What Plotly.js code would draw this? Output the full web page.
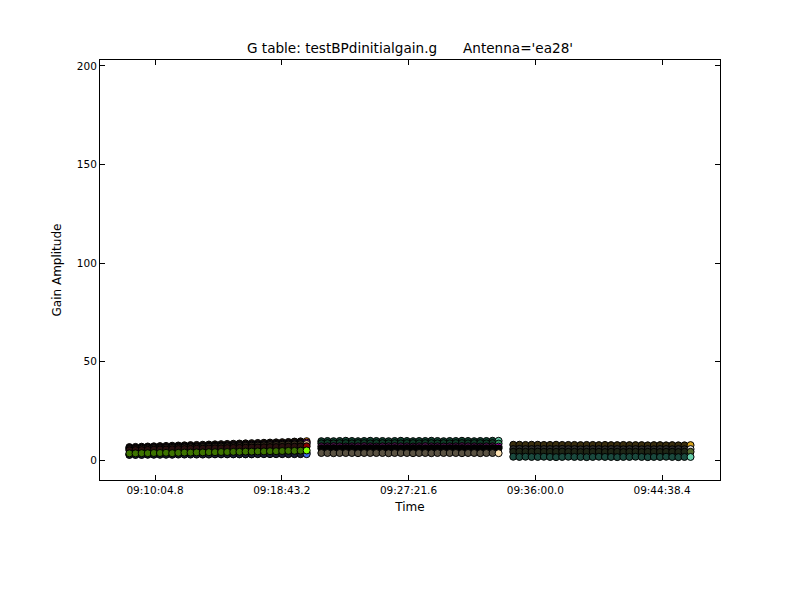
<!DOCTYPE html>
<html>
<head>
<meta charset="utf-8">
<script src="https://cdn.plot.ly/plotly-3.0.1.min.js"></script>
<style>html,body{margin:0;padding:0;background:#fff;}#chart{width:800px;height:600px;}</style>
</head>
<body>
<div id="chart"></div>
<script>
// ---- Data ----
var day = '2013-01-01 ';
var scan1Times = ['09:08:20','09:08:45','09:09:10','09:09:35','09:10:00','09:10:25','09:10:50','09:11:15','09:11:40','09:12:05','09:12:30','09:12:55','09:13:20','09:13:45','09:14:10','09:14:35','09:15:00','09:15:25','09:15:50','09:16:15','09:16:40','09:17:05','09:17:30','09:17:55','09:18:20','09:18:45','09:19:10','09:19:35','09:20:00','09:20:25'];
var scan2Times = ['09:21:25','09:21:50','09:22:15','09:22:40','09:23:05','09:23:30','09:23:55','09:24:20','09:24:45','09:25:10','09:25:35','09:26:00','09:26:25','09:26:50','09:27:15','09:27:40','09:28:05','09:28:30','09:28:55','09:29:20','09:29:45','09:30:10','09:30:35','09:31:00','09:31:25','09:31:50','09:32:15','09:32:40','09:33:05','09:33:30'];
var scan3Times = ['09:34:30','09:34:55','09:35:20','09:35:45','09:36:10','09:36:35','09:37:00','09:37:25','09:37:50','09:38:15','09:38:40','09:39:05','09:39:30','09:39:55','09:40:20','09:40:45','09:41:10','09:41:35','09:42:00','09:42:25','09:42:50','09:43:15','09:43:40','09:44:05','09:44:30','09:44:55','09:45:20','09:45:45','09:46:10','09:46:35'];

// scan 1 amplitudes
var s1a = [6.6,6.7,6.8,6.9,7.0,7.1,7.2,7.3,7.4,7.5,7.6,7.7,7.8,7.9,8.0,8.1,8.2,8.3,8.4,8.5,8.6,8.7,8.8,8.9,9.0,9.1,9.2,9.4,9.5,9.6];
var s1b = [6.1,6.2,6.3,6.4,6.5,6.5,6.6,6.7,6.8,6.9,7.0,7.0,7.1,7.2,7.3,7.4,7.5,7.6,7.7,7.8,7.9,8.0,8.1,8.2,8.3,8.4,8.5,8.6,8.8,8.9];
var s1c = [5.6,5.7,5.8,5.9,6.0,6.0,6.1,6.2,6.3,6.4,6.5,6.5,6.6,6.7,6.8,6.9,7.0,7.0,7.1,7.2,7.3,7.4,7.5,7.6,7.7,7.8,7.9,8.0,8.1,8.2];
var s1d = [5.0,5.1,5.1,5.2,5.3,5.4,5.4,5.5,5.6,5.6,5.7,5.8,5.8,5.9,6.0,6.0,6.1,6.2,6.2,6.3,6.4,6.4,6.5,6.6,6.6,6.7,6.8,6.8,6.9,7.0];
var s1f = [2.9,2.9,3.0,3.0,3.0,3.1,3.1,3.1,3.2,3.2,3.2,3.2,3.3,3.3,3.3,3.3,3.4,3.4,3.4,3.4,3.5,3.5,3.5,3.5,3.5,3.6,3.6,3.6,3.7,3.7];
var s1g = [2.6,2.6,2.6,2.7,2.7,2.7,2.7,2.7,2.8,2.8,2.8,2.8,2.8,2.8,2.9,2.9,2.9,2.9,2.9,2.9,2.9,3.0,3.0,3.0,3.0,3.0,3.0,3.0,3.0,3.0];
var s1e = [3.4,3.4,3.5,3.5,3.6,3.6,3.7,3.5,3.7,3.8,3.8,3.9,3.9,4.0,4.0,4.1,4.1,4.2,4.2,4.3,4.3,4.4,4.4,4.5,4.5,4.6,4.7,4.7,4.8,4.9];
// scan 2 amplitudes
var s2a = [9.6,9.7,9.6,9.7,9.8,9.7,9.6,9.7,9.8,9.7,9.7,9.6,9.7,9.8,9.7,9.6,9.7,9.7,9.8,9.7,9.6,9.7,9.7,9.8,9.7,9.6,9.7,9.7,9.8,9.8];
var s2b = [8.5,8.6,8.5,8.6,8.6,8.5,8.6,8.6,8.5,8.6,8.6,8.5,8.6,8.5,8.6,8.6,8.5,8.6,8.6,8.5,8.6,8.5,8.6,8.6,8.5,8.6,8.6,8.5,8.6,8.4];
var s2c = [7.0,7.0,7.1,7.0,6.9,7.0,7.0,7.1,7.0,6.9,7.0,7.0,7.1,7.0,7.0,6.9,7.0,7.1,7.0,7.0,6.9,7.0,7.0,7.1,7.0,7.0,6.9,7.0,7.0,6.8];
var s2d = [5.9,6.0,6.0,5.9,6.0,6.0,5.9,6.0,6.0,6.0,5.9,6.0,6.0,5.9,6.0,6.0,6.0,5.9,6.0,6.0,5.9,6.0,6.0,6.0,5.9,6.0,6.0,5.9,6.0,6.0];
var s2e = [3.6,3.6,3.5,3.6,3.6,3.6,3.5,3.6,3.6,3.6,3.6,3.5,3.6,3.6,3.6,3.5,3.6,3.6,3.5,3.6,3.6,3.6,3.6,3.5,3.6,3.6,3.5,3.6,3.6,3.5];
// scan 3 amplitudes
var s3a = [7.8,7.8,7.7,7.8,7.8,7.7,7.7,7.8,7.7,7.7,7.7,7.6,7.7,7.7,7.6,7.7,7.6,7.6,7.7,7.6,7.6,7.6,7.5,7.6,7.6,7.5,7.6,7.5,7.5,7.6];
var s3b = [5.6,5.7,5.6,5.6,5.7,5.6,5.6,5.6,5.7,5.6,5.6,5.5,5.6,5.6,5.6,5.5,5.6,5.6,5.5,5.6,5.6,5.5,5.6,5.5,5.6,5.6,5.5,5.6,5.5,5.6];
var s3c = [4.2,4.3,4.2,4.2,4.3,4.2,4.2,4.2,4.3,4.2,4.2,4.1,4.2,4.2,4.2,4.1,4.2,4.2,4.1,4.2,4.2,4.1,4.2,4.2,4.1,4.2,4.2,4.1,4.2,4.2];
var s3d = [1.7,1.6,1.7,1.6,1.6,1.7,1.6,1.5,1.6,1.7,1.6,1.6,1.5,1.6,1.7,1.6,1.6,1.5,1.6,1.6,1.7,1.6,1.5,1.6,1.6,1.7,1.6,1.5,1.6,1.6];

var xTickVals = ['09:10:04.8','09:18:43.2','09:27:21.6','09:36:00.0','09:44:38.4'];
var yTickVals = [0, 50, 100, 150, 200];

// ---- Styling (separate from data) ----
var groups = [
  {t: scan1Times, ys: [s1a,s1b,s1c,s1d,s1f,s1g,s1e],
   bright: ['#ff8c00','#9400d3','#d2b48c','#8b0000','#87cefa','#4169e1','#7fff00'],
   dark:   ['#2e2010','#24142a','#342a1c','#2a1010','#1c2a36','#1a1e34','#3d7400']},
  {t: scan2Times, ys: [s2a,s2b,s2c,s2d,s2e],
   bright: ['#66cdaa','#2e8b57','#ff00ff','#000000','#ffe4b5'],
   dark:   ['#0e4532','#0f3d26','#4a1048','#000000','#5a5242']},
  {t: scan3Times, ys: [s3a,s3b,s3c,s3d],
   bright: ['#daa520','#dcdcdc','#556b2f','#66cdaa'],
   dark:   ['#3a2e0e','#2c2c2c','#1e2616','#1a4a3e']}
];

var traces = [];
groups.forEach(function(g){
  var xs = g.t.map(function(s){ return day + s; });
  g.ys.forEach(function(y, k){
    var cols = y.map(function(v, i){ return i === y.length - 1 ? g.bright[k] : g.dark[k]; });
    traces.push({
      type: 'scatter', mode: 'markers', x: xs, y: y, showlegend: false, hoverinfo: 'skip',
      marker: {size: 7, color: cols, line: {color: '#000', width: 1}}
    });
  });
});

var layout = {
  width: 800, height: 600,
  paper_bgcolor: '#fff', plot_bgcolor: '#fff',
  margin: {l: 100, r: 80, t: 60, b: 120, pad: 0},
  font: {family: 'DejaVu Sans, sans-serif', size: 10.5, color: '#000'},
  title: {text: "G table: testBPdinitialgain.g\u00a0\u00a0\u00a0\u00a0\u00a0\u00a0Antenna='ea28'",
          font: {size: 13.6, color: '#000'}, x: 0.5, xref: 'paper', y: 1 - 48/600, yref: 'container', yanchor: 'middle'},
  xaxis: {
    type: 'date',
    range: [day + '09:06:19.8', day + '09:48:35.4'],
    tickvals: xTickVals.map(function(s){ return day + s; }),
    ticktext: xTickVals,
    ticks: 'inside', ticklen: 5, tickcolor: '#000',
    showline: true, linecolor: '#000', linewidth: 1, mirror: 'allticks',
    showgrid: false, zeroline: false,
    title: {text: 'Time', font: {size: 12}, standoff: 8}
  },
  yaxis: {
    range: [-10.1, 203],
    tickvals: yTickVals,
    ticks: 'inside', ticklen: 5, tickcolor: '#000',
    showline: true, linecolor: '#000', linewidth: 1, mirror: 'allticks',
    showgrid: false, zeroline: false,
    title: {text: 'Gain Amplitude', font: {size: 12}, standoff: 12}
  }
};

Plotly.newPlot('chart', traces, layout, {displayModeBar: false, staticPlot: true});
</script>
</body>
</html>
